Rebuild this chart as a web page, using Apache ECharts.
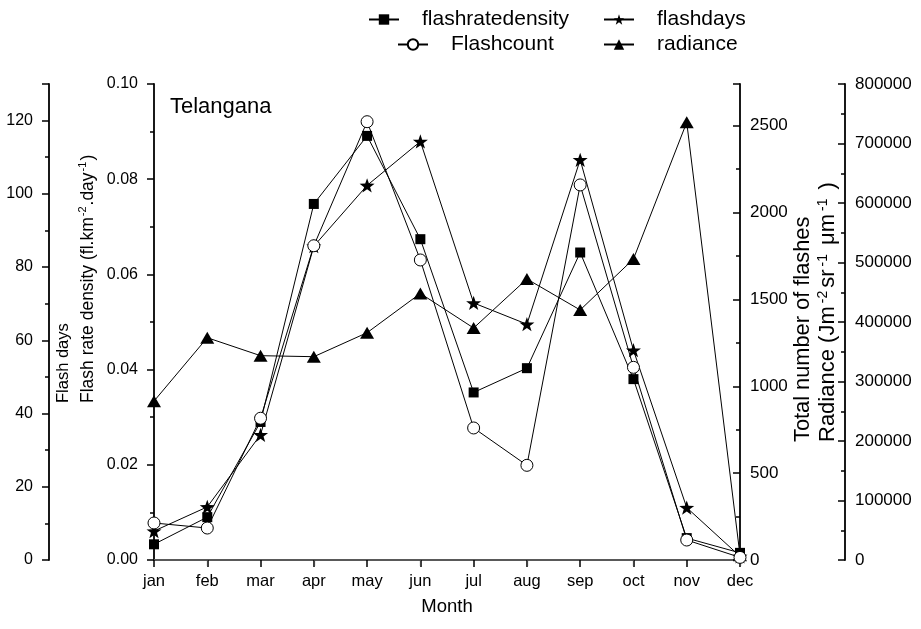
<!DOCTYPE html>
<html>
<head>
<meta charset="utf-8">
<script src="https://cdn.jsdelivr.net/npm/echarts@6/dist/echarts.min.js"></script>
<style>
  html, body { margin: 0; padding: 0; background: #fff; }
  #chart { width: 921px; height: 629px; }
</style>
</head>
<body>
<div id="chart"></div>
<script>
// Monthly lightning statistics for Telangana
const months = ['jan', 'feb', 'mar', 'apr', 'may', 'jun', 'jul', 'aug', 'sep', 'oct', 'nov', 'dec'];
const flashRateDensity = [0.0033, 0.0090, 0.0290, 0.0748, 0.0891, 0.0674, 0.0352, 0.0403, 0.0646, 0.0380, 0.0046, 0.0015];
const flashDays = [7.9, 14.5, 34.2, 85.7, 102.3, 114.3, 70.2, 64.4, 109.3, 57.3, 14.3, 1];
const flashCount = [213, 184, 816, 1809, 2523, 1727, 760, 545, 2159, 1109, 115, 15];
const radiance = [267000, 373600, 343400, 341700, 382000, 448000, 389900, 472300, 420200, 505900, 735600, 8000];

const FONT = 'Liberation Sans, Arial, sans-serif';
const STAR = 'path://M0,-10 L2.35,-3.24 L9.51,-3.09 L3.8,1.24 L5.88,8.09 L0,4 L-5.88,8.09 L-3.8,1.24 L-9.51,-3.09 L-2.35,-3.24 Z';

function yAxisBase(extra) {
  return Object.assign({
    type: 'value',
    splitLine: { show: false },
    axisLine: { show: true, onZero: false, lineStyle: { color: '#000', width: 1.8 } },
    axisTick: { show: true, length: 7, lineStyle: { color: '#000', width: 1.5 } },
    minorTick: { show: true, splitNumber: 2, length: 4, lineStyle: { color: '#000', width: 1.5 } },
    axisLabel: { color: '#000', fontSize: 16, fontFamily: FONT, showMaxLabel: false, margin: 16 }
  }, extra);
}

// Stacked axis titles, drawn bottom-to-top and starting from a common baseline point
function axisTitle(x, y, text, size, supSize, supPad) {
  return {
    type: 'text', x: x, y: y, rotation: Math.PI / 2, silent: true,
    style: {
      text: text, fill: '#000', fontSize: size, fontFamily: FONT,
      align: 'left', verticalAlign: 'middle',
      rich: {
        s: { fontSize: supSize, fontFamily: FONT, fill: '#000', padding: [0, supPad, 10, supPad] }
      }
    }
  };
}

function legendAt(name, left, top) {
  return {
    data: [name], left: left, top: top, padding: 0,
    itemWidth: 30, itemHeight: 13, selectedMode: false,
    textStyle: { color: '#000', fontSize: 21, fontFamily: FONT, padding: [0, 0, 0, 18] }
  };
}

const lineStyle = { color: '#000', width: 1 };

const option = {
  animation: false,
  backgroundColor: '#fff',
  title: {
    text: 'Telangana', left: 170, top: 96, padding: 0,
    textStyle: { color: '#000', fontSize: 22, fontWeight: 'normal', fontFamily: FONT }
  },
  legend: [
    legendAt('flashratedensity', 368, 9),
    legendAt('flashdays', 603, 9),
    legendAt('Flashcount', 397, 34),
    legendAt('radiance', 603, 34)
  ],
  graphic: [
    axisTitle(63, 403, 'Flash days', 16.5, 11, 0),
    axisTitle(88, 403, 'Flash rate density (fl.km{s|-2}.day{s|-1})', 17.5, 11, 1),
    axisTitle(803, 442, 'Total number of flashes', 21.8, 13, 0),
    axisTitle(828, 442, 'Radiance (Jm{s|-2}sr{s|-1} μm{s|-1} )', 22, 14, 3)
  ],
  grid: { left: 154, right: 181, top: 84, bottom: 69, containLabel: false, outerBoundsMode: 'none' },
  xAxis: [
    {
      type: 'category', data: months, boundaryGap: false, position: 'bottom',
      nameMoveOverlap: false,
      axisLine: { lineStyle: { color: '#000', width: 1.8 } },
      axisTick: { show: true, length: 7, alignWithLabel: true, lineStyle: { color: '#000', width: 1.5 } },
      axisLabel: { color: '#000', fontSize: 16.5, fontFamily: FONT, margin: 13 },
      name: 'Month', nameLocation: 'middle', nameGap: 37,
      nameTextStyle: { color: '#000', fontSize: 18.5, fontFamily: FONT }
    },
    {
      type: 'category', data: months, boundaryGap: false, position: 'top',
      axisLine: { lineStyle: { color: '#777', width: 1.5 } },
      axisTick: { show: true, inside: true, length: 6, interval: function (i) { return i % 2 === 1; }, lineStyle: { color: '#444', width: 1.2 } },
      axisLabel: { show: false }
    }
  ],
  yAxis: [
    yAxisBase({
      position: 'left', offset: 0, min: 0, max: 0.1, interval: 0.02,
      axisLabel: { color: '#000', fontSize: 16, fontFamily: FONT, margin: 16, formatter: v => v.toFixed(2) }
    }),
    yAxisBase({
      position: 'left', offset: 105, min: 0, max: 130, interval: 20
    }),
    yAxisBase({
      position: 'right', offset: 0, min: 0, max: 2740, interval: 500,
      axisTick: { show: true, inside: true, length: 7, lineStyle: { color: '#000', width: 1.5 } },
      minorTick: { show: true, splitNumber: 2, length: 4, lineStyle: { color: '#000', width: 1.5 } },
      axisLabel: { color: '#000', fontSize: 17, fontFamily: FONT, showMaxLabel: false, margin: 10, formatter: v => String(v) }
    }),
    yAxisBase({
      position: 'right', offset: 105, min: 0, max: 800000, interval: 100000,
      axisTick: { show: true, inside: true, length: 7, lineStyle: { color: '#000', width: 1.5 } },
      minorTick: { show: true, splitNumber: 2, length: 4, lineStyle: { color: '#000', width: 1.5 } },
      axisLabel: { color: '#000', fontSize: 17, fontFamily: FONT, margin: 10, formatter: v => String(v) }
    })
  ],
  series: [
    {
      name: 'flashratedensity', type: 'line', yAxisIndex: 0, data: flashRateDensity,
      symbol: 'rect', symbolSize: 10, lineStyle: lineStyle,
      itemStyle: { color: '#000', borderColor: '#000', borderWidth: 0 }, z: 3
    },
    {
      name: 'flashdays', type: 'line', yAxisIndex: 1, data: flashDays,
      symbol: STAR, symbolSize: 15, symbolKeepAspect: true, lineStyle: lineStyle,
      itemStyle: { color: '#000', borderColor: '#000', borderWidth: 0 }, z: 4
    },
    {
      name: 'Flashcount', type: 'line', yAxisIndex: 2, data: flashCount,
      symbol: 'circle', symbolSize: 12, lineStyle: lineStyle,
      itemStyle: { color: '#fff', borderColor: '#000', borderWidth: 1 }, z: 5
    },
    {
      name: 'radiance', type: 'line', yAxisIndex: 3, data: radiance,
      symbol: 'triangle', symbolSize: [14, 12], lineStyle: lineStyle,
      itemStyle: { color: '#000', borderColor: '#000', borderWidth: 0 }, z: 2
    }
  ]
};

const chart = echarts.init(document.getElementById('chart'), null, { renderer: 'canvas' });
chart.setOption(option);
</script>
</body>
</html>
